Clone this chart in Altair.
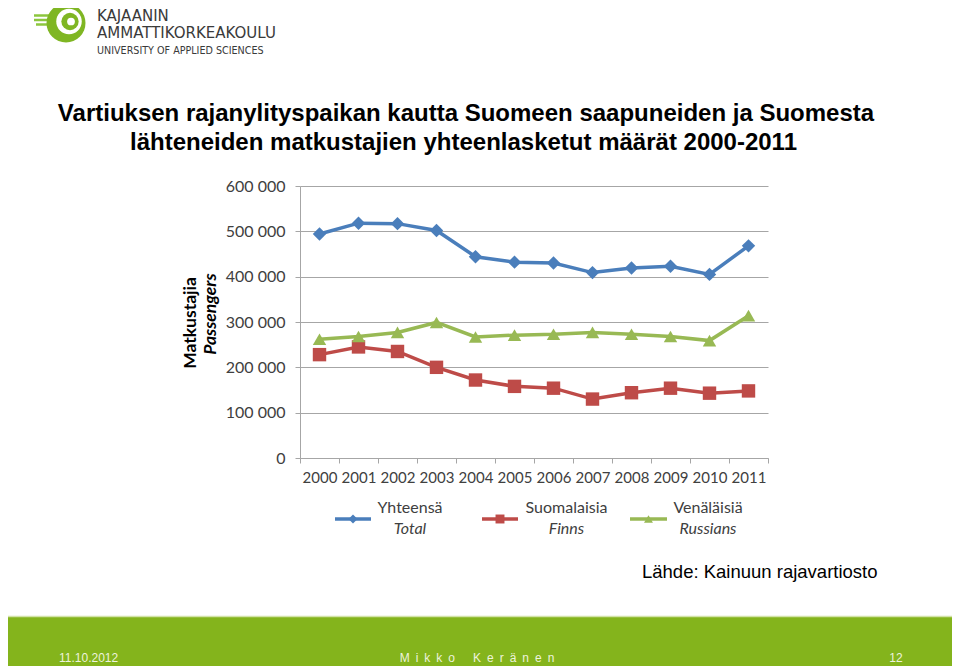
import altair as alt
import pandas as pd

# ---------------- data ----------------
years = [str(y) for y in range(2000, 2012)]
total = [494000, 518000, 517000, 502000, 444000, 432000, 430000, 409000, 419000, 423000, 405000, 468000]
finns = [228000, 245000, 235000, 200000, 172000, 158000, 154000, 130000, 144000, 154000, 143000, 148000]
russians = [262000, 268000, 277000, 299000, 267000, 271000, 273000, 277000, 273000, 268000, 259000, 314000]
series_fi = ["Yhteensä", "Suomalaisia", "Venäläisiä"]
series_en = ["Total", "Finns", "Russians"]
y_ticks = [0, 100000, 200000, 300000, 400000, 500000, 600000]
title_lines = ["Vartiuksen rajanylityspaikan kautta Suomeen saapuneiden ja Suomesta",
               "lähteneiden matkustajien yhteenlasketut määrät 2000-2011"]
axis_title = ["Matkustajia", "Passengers"]
source_text = "Lähde: Kainuun rajavartiosto"
footer_left = "11.10.2012"
footer_mid = "\u2002".join("Mikko") + "\u2002\u2002\u2002" + "\u2002".join("Keränen")
footer_right = "12"
logo_lines = ["KAJAANIN", "AMMATTIKORKEAKOULU", "UNIVERSITY OF APPLIED SCIENCES"]

# ---------------- styles ----------------
COLORS = ["#4a7ebb", "#be4b48", "#98b954"]
SHAPES = ["diamond", "square", "triangle-up"]
GRID = "#a6a6a6"
LABEL = "#404040"
GREEN = "#84b41c"
LOGO_GREEN = "#7fb623"

W, H = 468, 272
PX0, PY0 = 300, 186  # page position of plot origin


def P(X, Y):
    return X - PX0, Y - PY0


rows = []
for name, vals in zip(series_fi, [total, finns, russians]):
    for yr, v in zip(years, vals):
        rows.append({"year": yr, "value": v, "series": name})
df = pd.DataFrame(rows)
one = pd.DataFrame({"k": [0]})


def text_layer(txt, X, Y, size, font="Lato", weight="normal", style="normal",
               color="#000000", align="center", baseline="alphabetic", angle=None):
    kw = dict(font=font, fontSize=size, fontWeight=weight, fontStyle=style,
              color=color, align=align, baseline=baseline)
    if angle is not None:
        kw["angle"] = angle
    x, y = P(X, Y)
    return alt.Chart(pd.DataFrame({"t": [txt]})).mark_text(**kw).encode(
        x=alt.value(x), y=alt.value(y), text="t:N")


def point_layer(X, Y, shape, size, color):
    x, y = P(X, Y)
    return alt.Chart(one).mark_point(shape=shape, size=size, filled=True, opacity=1,
                                     color=color, strokeWidth=0).encode(
        x=alt.value(x), y=alt.value(y))


def hline(X0, X1, Y, color, width):
    x0, y = P(X0, Y)
    x1, _ = P(X1, Y)
    return alt.Chart(one).mark_rule(color=color, strokeWidth=width).encode(
        x=alt.value(x0), x2=alt.value(x1), y=alt.value(y))


# ---------------- footer band ----------------
fx0, fy0 = P(0, 617)
fx1, fy1 = P(960, 668)
footer_band = alt.Chart(one).mark_rect(color=GREEN).encode(
    x=alt.value(fx0), x2=alt.value(fx1), y=alt.value(fy0), y2=alt.value(fy1))
footer_line = hline(0, 960, 616.5, "#d3e3a8", 1.5)

# ---------------- logo ----------------
logo = [
    hline(34, 62, 15.5, "#8cc63e", 2.5),
    hline(34, 62, 20, "#8cc63e", 2.5),
    hline(36, 62, 24.5, "#8cc63e", 2.5),
    point_layer(66, 23, "circle", 1521, LOGO_GREEN),
    point_layer(69, 21.5, "circle", 650, "#ffffff"),
    point_layer(70, 21.5, "circle", 300, LOGO_GREEN),
    point_layer(71, 21.5, "circle", 60, "#ffffff"),
    text_layer(logo_lines[0], 97, 21, 15, font="DejaVu Sans", color="#3a3a3a", align="left"),
    text_layer(logo_lines[1], 97, 38, 15, font="DejaVu Sans", color="#3a3a3a", align="left"),
    text_layer(logo_lines[2], 97, 54, 9.6, font="DejaVu Sans", color="#3a3a3a", align="left"),
]

# ---------------- titles ----------------
titles = [
    text_layer(title_lines[0], 466, 121, 24, font="Liberation Sans", weight="bold"),
    text_layer(title_lines[1], 463.5, 150, 24, font="Liberation Sans", weight="bold"),
    text_layer(axis_title[0], 190.5, 323, 17.5, weight="bold", baseline="middle", angle=270),
    text_layer(axis_title[1], 211, 314, 17.5, weight="bold", style="italic", baseline="middle", angle=270),
]

# ---------------- data layers ----------------
x_enc = alt.X("year:O", sort=years, bandPosition=0.5,
              scale=alt.Scale(type="band", paddingInner=0, paddingOuter=0),
              axis=alt.Axis(title=None, labelAngle=0, tickBand="extent", tickSize=5,
                            tickColor=GRID, domainColor=GRID, grid=False,
                            labelFont="Lato", labelFontSize=15, labelColor=LABEL,
                            labelPadding=7))
y_enc = alt.Y("value:Q", scale=alt.Scale(domain=[0, 600000], nice=False),
              axis=alt.Axis(title=None, values=y_ticks, grid=True, gridColor=GRID,
                            tickColor=GRID, domainColor=GRID, tickSize=5,
                            labelExpr="replace(format(datum.value, ','), ',', ' ')",
                            labelFont="Lato", labelFontSize=16, labelColor=LABEL,
                            labelPadding=10))
color_enc = alt.Color("series:N", scale=alt.Scale(domain=series_fi, range=COLORS), legend=None)
shape_enc = alt.Shape("series:N", scale=alt.Scale(domain=series_fi, range=SHAPES), legend=None)

lines = alt.Chart(df).mark_line(strokeWidth=3.5).encode(x=x_enc, y=y_enc, color=color_enc)
points = alt.Chart(df).mark_point(filled=True, opacity=1, size=180).encode(
    x=x_enc, y=y_enc, color=color_enc, shape=shape_enc)

# ---------------- legend ----------------
legend_layout = [  # (line x0, line x1, text center x)
    (335, 371, 410),
    (482, 518, 566.5),
    (630, 667, 708),
]
legend = []
for i, (x0, x1, tx) in enumerate(legend_layout):
    legend.append(hline(x0, x1, 519, COLORS[i], 3.5))
    legend.append(point_layer((x0 + x1) / 2, 519, SHAPES[i], 80, COLORS[i]))
    legend.append(text_layer(series_fi[i], tx, 513, 16, color=LABEL))
    legend.append(text_layer(series_en[i], tx, 534, 16, style="italic", color=LABEL))

# ---------------- source & footer text ----------------
extra = [
    text_layer(source_text, 642, 578, 18.5, font="Liberation Sans", align="left"),
    text_layer(footer_left, 59, 662, 12, font="Liberation Sans", color="#edf3dc", align="left"),
    text_layer(footer_mid, 477, 662, 12, font="Liberation Sans", color="#edf3dc"),
    text_layer(footer_right, 896, 662, 12, font="Liberation Sans", color="#edf3dc"),
]

chart = alt.layer(
    lines, points, footer_band, footer_line, *logo, *titles, *legend, *extra
).properties(
    width=W, height=H,
    padding={"left": 292, "top": 178, "right": 184, "bottom": 208},
    autosize=alt.AutoSizeParams(type="none"),
    background="#ffffff",
).configure_view(stroke=None)

chart.save("out.html", embed_options={"renderer": "svg", "actions": False})
